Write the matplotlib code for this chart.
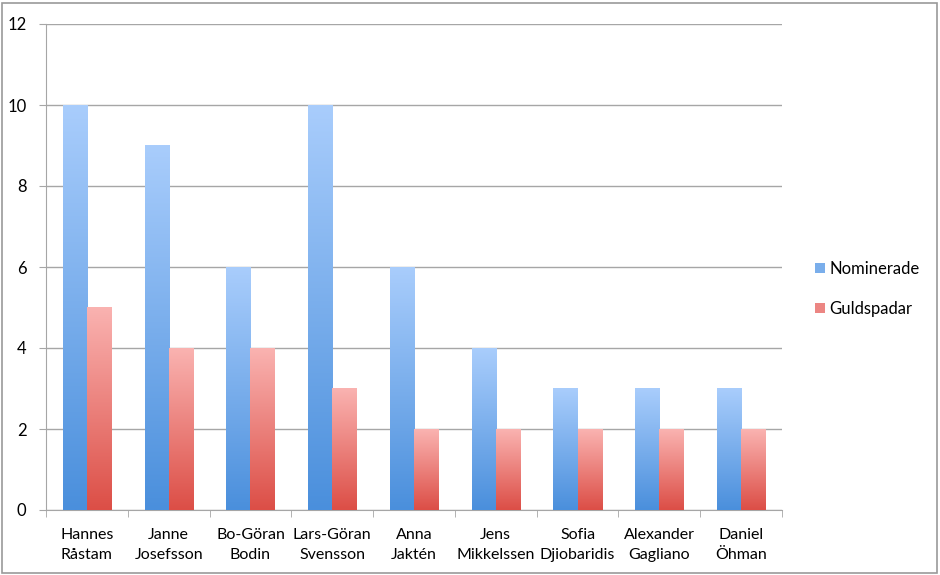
import matplotlib
matplotlib.use("Agg")
import matplotlib.pyplot as plt
import numpy as np
from matplotlib.colors import LinearSegmentedColormap
from matplotlib.patches import Rectangle

names = ["Hannes\nRåstam", "Janne\nJosefsson", "Bo-Göran\nBodin", "Lars-Göran\nSvensson",
         "Anna\nJaktén", "Jens\nMikkelssen", "Sofia\nDjiobaridis", "Alexander\nGagliano", "Daniel\nÖhman"]
nominerade = [10, 9, 6, 10, 6, 4, 3, 3, 3]
guldspadar = [5, 4, 4, 3, 2, 2, 2, 2, 2]
series_labels = ["Nominerade", "Guldspadar"]
yticks = [0, 2, 4, 6, 8, 10, 12]

plt.rcParams['font.family'] = ['Lato', 'DejaVu Sans']

fig = plt.figure(figsize=(9.4, 5.75), dpi=100)
ax = fig.add_axes([46/940, 1-510/575, (782-46)/940, (510-24)/575])

fig.patches.append(Rectangle((2/940, 2/575), 935/940, 570/575, transform=fig.transFigure,
                             fill=False, edgecolor="#9a9a9a", linewidth=1.2))

x = np.arange(len(names))
w = 0.295
blue_cmap = LinearSegmentedColormap.from_list("b", ["#4a8fdc", "#a9cdfc"])
red_cmap = LinearSegmentedColormap.from_list("r", ["#dc4e46", "#fab3b1"])

b1 = ax.bar(x - w/2, nominerade, w, color="#7aaeeb", label=series_labels[0], zorder=2)
b2 = ax.bar(x + w/2, guldspadar, w, color="#ec8683", label=series_labels[1], zorder=2)

grad = np.linspace(0, 1, 256).reshape(-1, 1)
for bars, cmap in ((b1, blue_cmap), (b2, red_cmap)):
    for bar in bars:
        x0 = bar.get_x(); bw = bar.get_width(); h = bar.get_height()
        ax.imshow(grad, cmap=cmap, origin="lower", aspect="auto",
                  extent=(x0, x0 + bw, 0, h), zorder=3, interpolation="bilinear")

ax.set_xlim(-0.5, len(names) - 0.5)
ax.set_ylim(0, 12)
ax.set_yticks(yticks)
ax.set_yticklabels([str(v) for v in yticks], fontsize=12)
ax.yaxis.grid(True, color="#a6a6a6", linewidth=1.0, zorder=0)
ax.set_axisbelow(True)

ax.set_xticks(x)
ax.set_xticklabels(names, fontsize=11.5, linespacing=1.55)
ax.set_xticks(np.arange(len(names) + 1) - 0.5, minor=True)
ax.tick_params(axis="x", which="major", length=0, pad=13)
ax.tick_params(axis="x", which="minor", length=5, color="#a6a6a6")
ax.tick_params(axis="y", length=5, color="#a6a6a6", pad=9)

for s in ("top", "right"):
    ax.spines[s].set_visible(False)
for s in ("left", "bottom"):
    ax.spines[s].set_color("#a6a6a6")

leg = ax.legend(loc="center left", bbox_to_anchor=(1.025, 0.455), frameon=False,
                fontsize=12, handlelength=0.55, handleheight=0.55, handletextpad=0.3,
                labelspacing=1.45)

fig.savefig("out.png", dpi=100)
